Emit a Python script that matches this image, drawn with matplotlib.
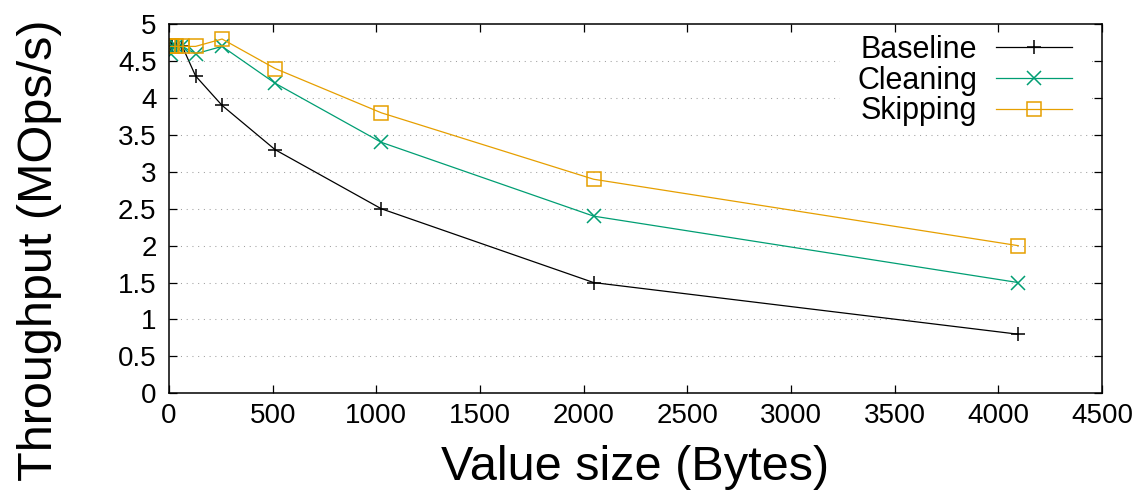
import matplotlib
matplotlib.use("Agg")
import matplotlib.pyplot as plt
from matplotlib.patches import Rectangle

plt.rcParams['font.family'] = ['Liberation Sans', 'DejaVu Sans']

# value sizes in bytes
sizes = [8, 16, 32, 64, 128, 256, 512, 1024, 2048, 4096]

# throughput in MOps/s
baseline = [4.7, 4.7, 4.7, 4.7, 4.3, 3.9, 3.3, 2.5, 1.5, 0.8]
cleaning = [4.6, 4.7, 4.7, 4.7, 4.6, 4.7, 4.2, 3.4, 2.4, 1.5]
skipping = [4.7, 4.7, 4.7, 4.7, 4.7, 4.8, 4.4, 3.8, 2.9, 2.0]

xticks = [0, 500, 1000, 1500, 2000, 2500, 3000, 3500, 4000, 4500]
yticks = [0, 0.5, 1, 1.5, 2, 2.5, 3, 3.5, 4, 4.5, 5]

fig = plt.figure(figsize=(11.42, 4.97), dpi=100)
ax = fig.add_axes([0.148, 0.2087, 0.817, 0.7425])
ax.set_axisbelow(False)

# dotted horizontal grid
for y in yticks[1:-1]:
    ax.axhline(y, color='#a0a0a0', lw=0.75, linestyle=(0, (1, 4.5)), zorder=1)
# opaque area behind the key
ax.add_patch(Rectangle((0.719, 0.727), 0.27, 0.273, transform=ax.transAxes,
                       facecolor='white', edgecolor='none', zorder=1.5))

ax.plot(sizes, baseline, color='black', lw=0.9, marker='+', ms=10, mew=1.1, label='Baseline')
ax.plot(sizes, cleaning, color='#009e73', lw=0.9, marker='x', ms=10, mew=1.1, label='Cleaning')
ax.plot(sizes, skipping, color='#e69f00', lw=0.9, marker='s', ms=10, mew=1.1,
        mfc='none', label='Skipping')

ax.set_xlim(0, 4500)
ax.set_ylim(0, 5)
ax.set_xticks(xticks)
ax.set_yticks(yticks)
ax.set_yticklabels([f'{v:g}' for v in yticks])
ax.tick_params(direction='in', length=6, width=0.9, top=True, right=True, labelsize=20)
ax.tick_params(axis='x', pad=7)
ax.tick_params(axis='y', pad=9)
for s in ax.spines.values():
    s.set_linewidth(1.1)

ax.set_xlabel('Value size (Bytes)', fontsize=35)
ax.xaxis.set_label_coords(0.5, -0.14)
ax.set_ylabel('Throughput (MOps/s)', fontsize=35)
ax.yaxis.set_label_coords(-0.115, 0.388)

leg = ax.legend(loc='upper right', bbox_to_anchor=(0.968, 0.972), markerfirst=False,
                frameon=False, fontsize=22, handlelength=2.5, handletextpad=0.6,
                labelspacing=0.03, borderpad=0, borderaxespad=0)
for t in leg.get_texts():
    t.set_ha('right')
leg._legend_box.align = 'right'

fig.savefig('out.png', dpi=100)
